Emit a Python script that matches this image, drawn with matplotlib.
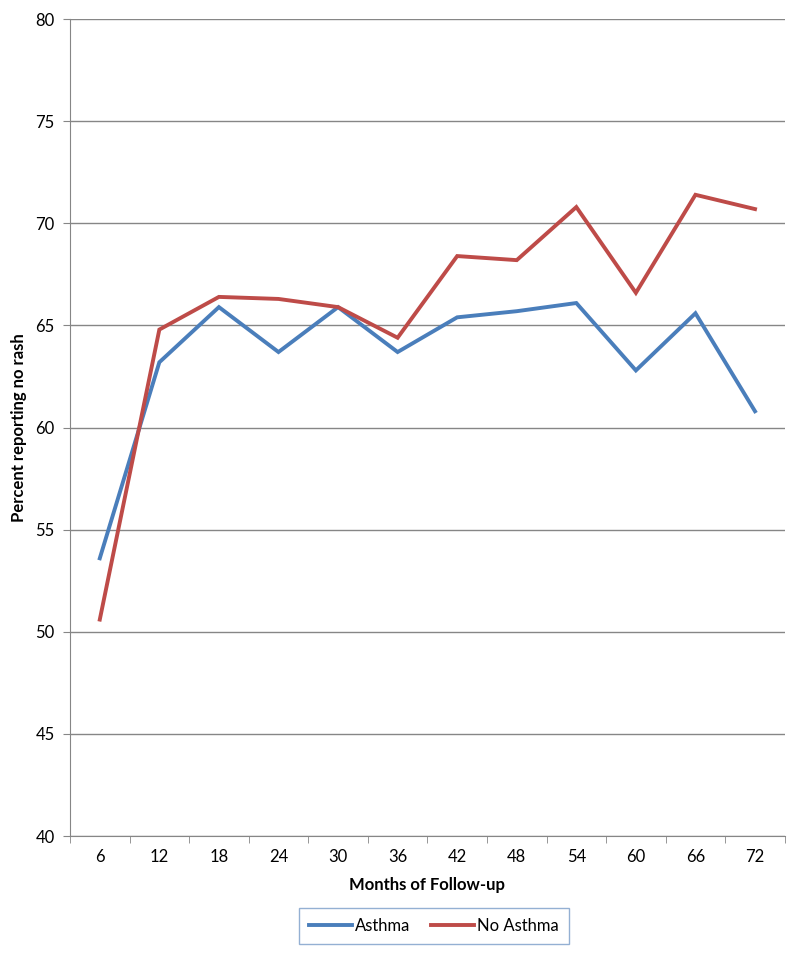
import numpy as np
import matplotlib
matplotlib.use("Agg")
import matplotlib.pyplot as plt
from matplotlib.ticker import FixedLocator

plt.rcParams['font.family'] = ['Lato', 'DejaVu Sans']

months = ["6", "12", "18", "24", "30", "36", "42", "48", "54", "60", "66", "72"]
asthma = [53.6, 63.2, 65.9, 63.7, 65.9, 63.7, 65.4, 65.7, 66.1, 62.8, 65.6, 60.8]
no_asthma = [50.6, 64.8, 66.4, 66.3, 65.9, 64.4, 68.4, 68.2, 70.8, 66.6, 71.4, 70.7]

axis_grey = "#868686"

fig = plt.figure(figsize=(8, 9.58), dpi=100)
ax = fig.add_axes([0.0875, 0.1273, 0.8935, 0.8527])

x = np.arange(len(months))
ax.plot(x, asthma, color="#4A7EBB", lw=2.8, label="Asthma", solid_joinstyle="miter")
ax.plot(x, no_asthma, color="#BE4B48", lw=2.8, label="No Asthma", solid_joinstyle="miter")

ax.set_xlim(-0.5, len(months) - 0.5)
ax.set_ylim(40, 80)
ax.set_yticks(np.arange(40, 81, 5))
ax.set_xticks(x)
ax.set_xticklabels(months)
# tick marks sit between the categories, labels in the middle
ax.xaxis.set_minor_locator(FixedLocator(np.arange(-0.5, len(months), 1)))
ax.tick_params(axis="x", which="major", length=0, pad=9, labelsize=12)
ax.tick_params(axis="x", which="minor", length=5, color=axis_grey, direction="out")
ax.tick_params(axis="y", length=5, color=axis_grey, direction="out", pad=6, labelsize=12)

ax.grid(axis="y", color=axis_grey, lw=1)
ax.set_axisbelow(True)
for side in ["top", "right"]:
    ax.spines[side].set_visible(False)
for side in ["left", "bottom"]:
    ax.spines[side].set_color(axis_grey)

ax.set_xlabel("Months of Follow-up", fontsize=12, fontweight="bold", labelpad=9)
ax.set_ylabel("Percent reporting no rash", fontsize=12, fontweight="bold", labelpad=6)

leg = fig.legend(loc="center", bbox_to_anchor=(434 / 800, 1 - 926 / 958), ncol=2,
                 fontsize=12, frameon=True, fancybox=False, handlelength=2.6,
                 columnspacing=1.2, handletextpad=0.2, borderpad=0.6)
leg.get_frame().set_edgecolor("#7A9CC8")
leg.get_frame().set_linewidth(1)

fig.savefig("out.png", dpi=100)
